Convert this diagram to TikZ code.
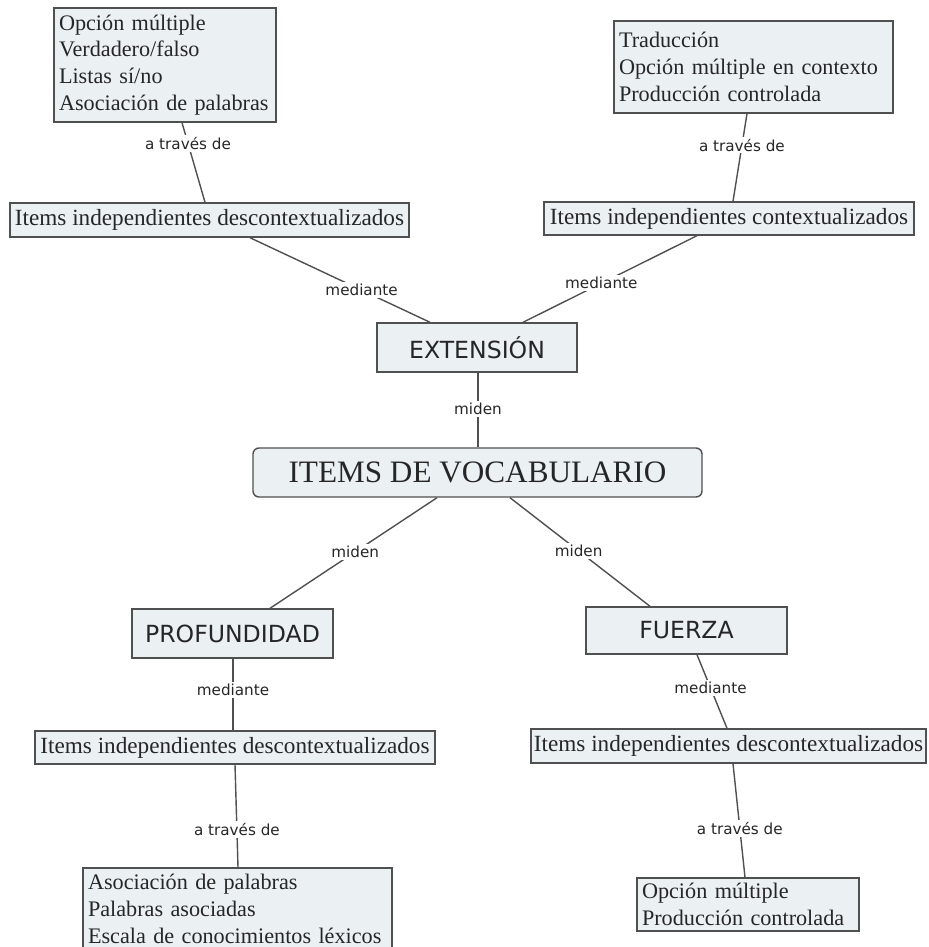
\documentclass[tikz,border=0pt]{standalone}
\usepackage{fontspec}
\setmainfont{Liberation Serif}
\newfontfamily\labelfont{DejaVu Sans}
\usetikzlibrary{calc}
\definecolor{boxfill}{HTML}{EBF1F3}
\definecolor{boxline}{HTML}{505050}
\definecolor{inkgray}{HTML}{262626}
\newcommand\listfont{\fontsize{11.1}{13.4}\selectfont\hyphenpenalty=10000\relax}
\tikzset{
  concept/.style={draw=boxline, line width=0.7pt, fill=boxfill, text=inkgray,
    inner sep=0pt, font=\fontsize{11.6}{13.5}\selectfont},
  listbox/.style={concept, align=left, inner xsep=2.5pt, font=\listfont},
  keybox/.style={concept, font=\labelfont\fontsize{11.8}{13}\selectfont},
  link/.style={draw=boxline, line width=0.7pt},
  linklabel/.style={fill=white, inner sep=1pt, text=inkgray,
    font=\labelfont\fontsize{7.6}{9}\selectfont}
}
\begin{document}
\begin{tikzpicture}[x=0.5pt, y=-0.5pt]
\useasboundingbox[fill=white] (0,0) rectangle (928,947);

% upper level: test formats
\node[listbox, text width=106pt, minimum height=57pt] (ta) at (165,65)
  {Opción múltiple\\Verdadero/falso\\Listas sí/no\\Asociación de palabras};
\node[listbox, text width=134.5pt, minimum height=46pt] (tb) at (753.5,67)
  {Traducción\\Opción múltiple en contexto\\Producción controlada};

% item types for extension
\node[concept, minimum width=199.5pt, minimum height=17pt] (ca) at (209.5,220)
  {Items independientes descontextualizados};
\node[concept, minimum width=185pt, minimum height=16.5pt] (cb) at (729,218.5)
  {Items independientes contextualizados};

% dimensions
\node[keybox, minimum width=100pt, minimum height=24.5pt] (ext) at (477,347.5) {EXTENSIÓN};
\node[concept, rounded corners=3pt, minimum width=224.5pt, minimum height=24.5pt,
  font=\fontsize{15.6}{18}\selectfont] (voc) at (477.5,472.5) {ITEMS DE VOCABULARIO};
\node[keybox, minimum width=100.5pt, minimum height=24.5pt] (prof) at (232.5,633.5) {PROFUNDIDAD};
\node[keybox, minimum width=100.5pt, minimum height=23.5pt] (fza) at (686.5,630.5) {FUERZA};

% item types for depth and strength
\node[concept, minimum width=200pt, minimum height=16.5pt] (ia) at (235,747.5)
  {Items independientes descontextualizados};
\node[concept, minimum width=197.5pt, minimum height=17pt] (ib) at (728.5,746)
  {Items independientes descontextualizados};

% lower level: test formats
\node[listbox, text width=149.5pt, minimum height=41pt] (fa) at (237.5,909)
  {Asociación de palabras\\Palabras asociadas\\Escala de conocimientos léxicos};
\node[listbox, text width=106pt, minimum height=26.5pt] (fb) at (748,904.5)
  {Opción múltiple\\Producción controlada};

% connectors
\draw[link] ($(ta.south)+(17,0)$) -- node[linklabel, pos=0.26] {a través de} ($(ca.north)+(-4.5,0)$);
\draw[link] ($(tb.south)+(-6.5,0)$) -- node[linklabel, pos=0.36] {a través de} ($(cb.north)+(4,0)$);
\draw[link] ($(ca.south)+(40.5,0)$) -- node[linklabel, pos=0.62] {mediante} ($(ext.north)+(-47,0)$);
\draw[link] ($(cb.south)+(-32,0)$) -- node[linklabel, pos=0.55] {mediante} ($(ext.north)+(46,0)$);
\draw[link] ($(ext.south)+(1,0)$) -- node[linklabel, pos=0.49] {miden} ($(voc.north)+(0.5,0)$);
\draw[link] ($(voc.south)+(-40.5,0)$) -- node[linklabel, pos=0.49] {miden} ($(prof.north)+(37.5,0)$);
\draw[link] ($(voc.south)+(32.5,0)$) -- node[linklabel, pos=0.49] {miden} ($(fza.north)+(-36.5,0)$);
\draw[link] ($(prof.south)+(0.5,0)$) -- node[linklabel, pos=0.44] {mediante} ($(ia.north)+(-2,0)$);
\draw[link] ($(ia.south)+(0,0)$) -- node[linklabel, pos=0.63] {a través de} ($(fa.north)+(0.5,0)$);
\draw[link] ($(fza.south)+(10.5,0)$) -- node[linklabel, pos=0.45] {mediante} ($(ib.north)+(-1.5,0)$);
\draw[link] ($(ib.south)+(4.5,0)$) -- node[linklabel, pos=0.57] {a través de} ($(fb.north)+(-3,0)$);
\end{tikzpicture}
\end{document}
